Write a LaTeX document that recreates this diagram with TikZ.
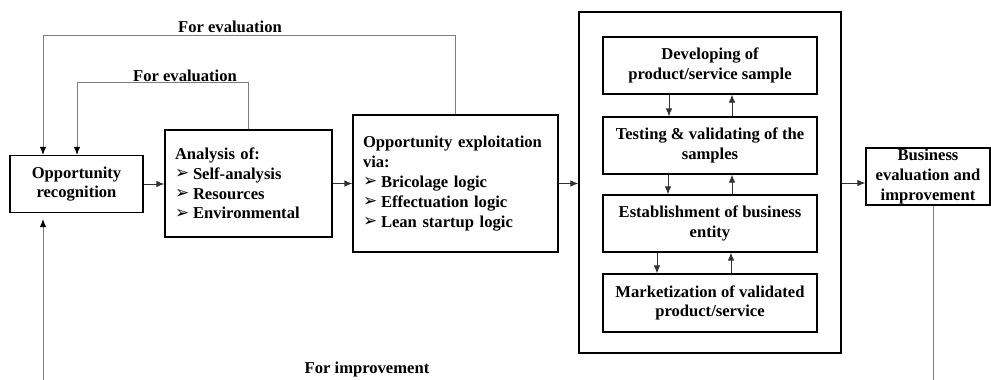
\documentclass[tikz,border=0pt]{standalone}
\usepackage{fontspec}
\setmainfont{Liberation Serif}
\newfontfamily\dvfont{DejaVu Sans}
\usetikzlibrary{arrows.meta}
\definecolor{arrgray}{RGB}{50,50,50}
\definecolor{fbgray}{RGB}{125,125,125}
\newcommand{\bul}{\makebox[18pt][l]{\raisebox{0.5pt}{\dvfont\fontsize{17}{17}\selectfont ➢}}}
\begin{document}
\begin{tikzpicture}[x=1pt,y=-1pt,
  font=\fontsize{16.6}{19.8}\selectfont\bfseries,
  box/.style={draw=black, line width=1.2pt, inner sep=0pt, align=center},
  lbox/.style={box, align=left, inner xsep=10pt},
  arr/.style={-{Latex[length=8pt,width=6.5pt]}, line width=0.9pt, draw=arrgray, fill=black},
  fb/.style={line width=1pt, draw=fbgray},
  fbarr/.style={fb, -{Latex[length=8pt,width=6.5pt,color=black]}},
  lbl/.style={anchor=base, inner sep=0pt}]
\useasboundingbox (0,0) rectangle (991,380);

% main boxes
\node[box, minimum width=133pt, minimum height=57pt] (rec) at (76.5,184) {Opportunity\\recognition};
\node[lbox, minimum width=167pt, minimum height=107pt, text width=147pt] (ana) at (248.5,183.5)
  {Analysis of:\\\bul Self-analysis\\\bul Resources\\\bul Environmental};
\node[lbox, minimum width=205pt, minimum height=137pt, text width=185pt] (exp) at (455.5,183.5)
  {Opportunity exploitation\\via:\\\bul Bricolage logic\\\bul Effectuation logic\\\bul Lean startup logic};
\node[box, minimum width=262pt, minimum height=341pt] (outer) at (710,182.5) {};
\node[box, minimum width=214pt, minimum height=57pt] (dev) at (710,65.5) {Developing of\\product/service sample};
\node[box, minimum width=214pt, minimum height=57pt] (test) at (710,145.5) {Testing \& validating of the\\samples};
\node[box, minimum width=214pt, minimum height=57pt] (est) at (710,223.5) {Establishment of business\\entity};
\node[box, minimum width=214pt, minimum height=58pt] (mkt) at (710,303) {Marketization of validated\\product/service};
\node[box, minimum width=124pt, minimum height=57pt] (biz) at (928,176.5) {Business\\evaluation and\\improvement};

% main flow
\draw[arr] (rec.east) -- (ana.west |- rec.east);
\draw[arr] (ana.east) -- (exp.west);
\draw[arr] (exp.east) -- (outer.west |- exp.east);
\draw[arr] (outer.east |- 0,183) -- (biz.west |- 0,183);

% inner arrows
\draw[arr] ([xshift=-41pt]dev.south) -- ([xshift=-41pt]test.north);
\draw[arr] ([xshift=22pt]test.north) -- ([xshift=22pt]dev.south);
\draw[arr] ([xshift=-42pt]test.south) -- ([xshift=-42pt]est.north);
\draw[arr] ([xshift=22pt]est.north) -- ([xshift=22pt]test.south);
\draw[arr] ([xshift=-53pt]est.south) -- ([xshift=-53pt]mkt.north);
\draw[arr] ([xshift=21pt]mkt.north) -- ([xshift=21pt]est.south);

% feedback loops
\coordinate (c2) at (43,35);
\coordinate (c3) at (77,82);
\coordinate (b1) at (43,380);
\coordinate (b2) at (933,380);
\draw[fbarr] (exp.north) |- (c2) -- (rec.north -| c2);
\draw[fbarr] (ana.north) |- (c3) -- (rec.north -| c3);
\draw[fbarr] (b1) -- ([yshift=-6pt]rec.south -| b1);
\draw[fb] (biz.south -| b2) -- (b2);

% labels
\node[lbl] (l1) at (230,32) {For evaluation};
\node[lbl] (l2) at (185,81) {For evaluation};
\node[lbl] (l3) at (367,373) {For improvement};
\end{tikzpicture}
\end{document}
